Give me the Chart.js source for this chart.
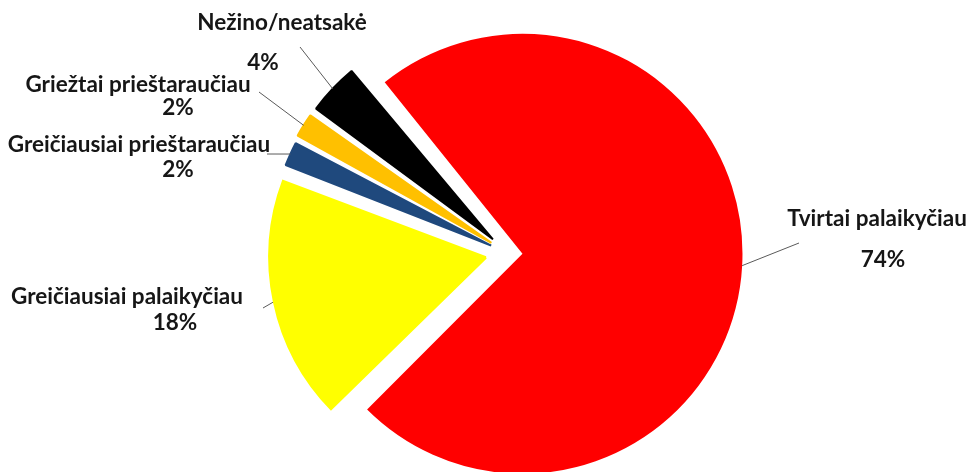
<!DOCTYPE html>
<html>
<head>
<meta charset="utf-8">
<script src="https://cdn.jsdelivr.net/npm/chart.js@4.4.1/dist/chart.umd.min.js"></script>
<style>
  html, body { margin: 0; padding: 0; background: #fff; }
  #wrap { width: 971px; height: 472px; }
</style>
</head>
<body>
<div id="wrap"><canvas id="supportPie" width="971" height="472"></canvas></div>
<script>
// answers, in drawing order (clockwise from the red slice)
const answers = ['Tvirtai palaikyčiau', 'Greičiausiai palaikyčiau', 'Greičiausiai prieštaraučiau', 'Griežtai prieštaraučiau', 'Nežino/neatsakė'];
const shares = [73.6, 18.1, 2.1, 2.1, 4.1];
const sliceColors = ['#FF0000', '#FFFF00', '#1F497D', '#FFC000', '#000000'];

// how far each slice is pulled out (Chart.js arc offset)
const explode = [60, 79, 72, 76, 80];
// thin slices get an outline in their own colour so they keep their width
const outline = [0, 0, 2, 2, 2];

// where the labels sit: name centre, percent centre, elbow of the leader line
const labelPos = [
    { x: 877, y: 219, px: 883, py: 260, lx: 799, ly: 243 },
    { x: 127, y: 297, px: 175, py: 323, lx: 263, ly: 308 },
    { x: 139, y: 145, px: 178, py: 170, lx: 267, ly: 154 },
    { x: 138, y: 85, px: 178, py: 108, lx: 259, ly: 92 },
    { x: 282, y: 23, px: 263, py: 63, lx: 300, ly: 47 }
];

const total = shares.reduce((a, b) => a + b, 0);

// Chart.js grows an exploded arc's radius depending on its sweep, so the
// yellow slice lives in its own layer with its own radius. The weights add
// up to exactly 1 so the back layer reaches the centre with no hole.
function layer(members, radius, weight) {
    const on = i => members.includes(i);
    return {
        data: shares,
        members: members,
        backgroundColor: sliceColors.map((c, i) => on(i) ? c : 'rgba(0,0,0,0)'),
        borderColor: sliceColors.map((c, i) => on(i) ? c : 'rgba(0,0,0,0)'),
        borderWidth: outline.map((w, i) => on(i) ? w : 0),
        offset: explode.map((o, i) => on(i) ? o : 0),
        radius: radius,
        weight: weight
    };
}

const pieLabels = {
    id: 'pieLabels',
    afterDatasetsDraw(chart) {
        const ctx = chart.ctx;
        ctx.save();
        chart.data.datasets.forEach((ds, d) => {
            const meta = chart.getDatasetMeta(d);
            ds.members.forEach(i => {
                const arc = meta.data[i];
                const p = arc.getProps(['x', 'y', 'startAngle', 'endAngle', 'outerRadius'], true);
                const shift = (arc.options.offset || 0) / 4;
                const sweep = p.endAngle - p.startAngle;
                const fix = 1 - Math.sin(Math.min(Math.PI, sweep));
                const mid = (p.startAngle + p.endAngle) / 2;
                const r = shift + p.outerRadius + shift * fix;
                const pos = labelPos[i];

                ctx.strokeStyle = '#5a5a5a';
                ctx.lineWidth = 1;
                ctx.beginPath();
                ctx.moveTo(p.x + Math.cos(mid) * r, p.y + Math.sin(mid) * r);
                ctx.lineTo(pos.lx, pos.ly);
                ctx.stroke();

                ctx.fillStyle = '#161616';
                ctx.textAlign = 'center';
                ctx.textBaseline = 'middle';
                ctx.font = 'bold 22.5px Lato';
                ctx.fillText(answers[i], pos.x, pos.y);
                ctx.fillText(Math.round(shares[i] / total * 100) + '%', pos.px, pos.py);
            });
        });
        ctx.restore();
    }
};

new Chart(document.getElementById('supportPie'), {
    type: 'pie',
    data: {
        labels: answers,
        datasets: [
            layer([1], 218.1, 1023 / 1024),
            layer([0, 2, 3, 4], 205 * 1024, 1 / 1024)
        ]
    },
    options: {
        responsive: false,
        animation: false,
        events: [],
        rotation: -39.4,
        layout: { padding: { left: 44, top: 34, right: 0, bottom: 0 } },
        plugins: {
            legend: { display: false },
            tooltip: { enabled: false }
        }
    },
    plugins: [pieLabels]
});
</script>
</body>
</html>
